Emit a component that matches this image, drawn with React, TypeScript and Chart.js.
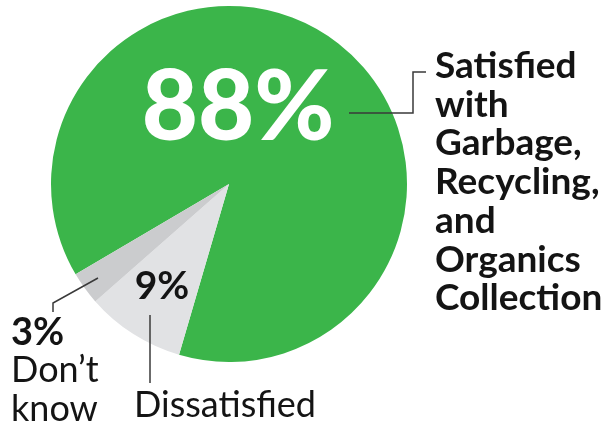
import React, { useEffect, useRef } from "react";
import { Chart, registerables } from "chart.js";

Chart.register(...registerables);

const categories = ["Satisfied", "Dissatisfied", "Don't know"];
const values = [88, 9, 3];
const colors = ["#3BB54A", "#E1E2E4", "#CBCCCE"];
const valueLabels = ["88%", "9%", "3%"];
const satisfiedLines = ["Satisfied", "with", "Garbage,", "Recycling,", "and", "Organics", "Collection"];
const dontKnowLines = ["Don\u2019t", "know"];
const dissatisfiedLabel = "Dissatisfied";

const FONT = "Lato, 'Open Sans', sans-serif";

const labelPlugin = {
  id: "pieLabels",
  afterDraw(chart: any) {
    const ctx = chart.ctx;
    const arc = chart.getDatasetMeta(0).data[0];
    const cx = arc.x;
    const cy = arc.y;
    ctx.save();
    ctx.textBaseline = "alphabetic";

    // 88% big white label
    ctx.fillStyle = "#FFFFFF";
    ctx.textAlign = "center";
    ctx.font = `900 97px ${FONT}`;
    ctx.fillText(valueLabels[0], cx + 9, cy - 44);

    // 9% label
    ctx.fillStyle = "#141414";
    ctx.font = `bold 39px ${FONT}`;
    ctx.fillText(valueLabels[1], cx - 67, cy + 115);

    // connectors
    ctx.strokeStyle = "#3A3A3A";
    ctx.lineWidth = 1.5;
    ctx.beginPath();
    ctx.moveTo(cx + 120, cy - 71);
    ctx.lineTo(cx + 184, cy - 71);
    ctx.lineTo(cx + 184, cy - 112);
    ctx.lineTo(cx + 197, cy - 112);
    ctx.stroke();

    ctx.beginPath();
    ctx.moveTo(cx - 131, cy + 94);
    ctx.lineTo(cx - 176, cy + 119);
    ctx.lineTo(cx - 176, cy + 128);
    ctx.stroke();

    ctx.beginPath();
    ctx.moveTo(cx - 79, cy + 131);
    ctx.lineTo(cx - 79, cy + 199);
    ctx.stroke();

    // right label
    ctx.textAlign = "left";
    ctx.fillStyle = "#141414";
    ctx.font = `bold 37px ${FONT}`;
    satisfiedLines.forEach((t, i) => {
      ctx.fillText(t, cx + 206, cy - 106 + i * 38.7);
    });

    // left labels
    ctx.font = `bold 38px ${FONT}`;
    ctx.fillText(valueLabels[2], cx - 218, cy + 161);
    ctx.font = `36px ${FONT}`;
    dontKnowLines.forEach((t, i) => {
      ctx.fillText(t, cx - 218, cy + 198 + i * 39);
    });

    ctx.font = `36px ${FONT}`;
    ctx.fillText(dissatisfiedLabel, cx - 95, cy + 233);
    ctx.restore();
  },
};

export default function App() {
  const ref = useRef<HTMLCanvasElement | null>(null);
  useEffect(() => {
    if (!ref.current) return;
    const chart = new Chart(ref.current, {
      type: "pie",
      data: {
        labels: categories,
        datasets: [
          {
            data: values,
            backgroundColor: colors,
            borderWidth: 0,
          },
        ],
      },
      options: {
        responsive: false,
        animation: false,
        rotation: 239.5,
        layout: { padding: { left: 51, top: 6, right: 195, bottom: 63 } },
        plugins: {
          legend: { display: false },
          tooltip: { enabled: false },
        },
      },
      plugins: [labelPlugin],
    });
    return () => chart.destroy();
  }, []);
  return (
    <div style={{ position: "fixed", left: 0, top: 0, width: 602, height: 425, background: "#fff" }}>
      <canvas ref={ref} width={602} height={425} style={{ width: 602, height: 425 }} />
    </div>
  );
}
